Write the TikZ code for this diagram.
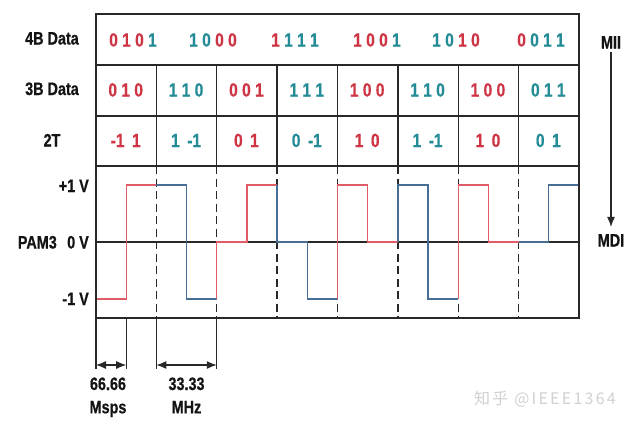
\documentclass[tikz,border=0pt]{standalone}
\usepackage{fontspec}
\setmainfont{Liberation Sans}[FakeStretch=0.8,FakeBold=0.6]
\newfontfamily\datafont{Liberation Sans}[FakeStretch=0.82,FakeBold=0.5]
\newfontfamily\wmfont{Noto Sans CJK SC}[LetterSpace=14]
\usetikzlibrary{arrows.meta,calc}
\definecolor{dred}{RGB}{206,52,68}
\definecolor{dteal}{RGB}{36,140,150}
\definecolor{wred}{RGB}{224,92,102}
\definecolor{wblue}{RGB}{72,110,150}
\definecolor{lineC}{RGB}{40,40,40}
\definecolor{labC}{RGB}{20,20,20}
\newcommand\drd[1]{\textcolor{dred}{#1}}
\newcommand\dtl[1]{\textcolor{dteal}{#1}}
\newcommand\gp{\kern4.3pt}
\newcommand\wg{\kern7.5pt}
\begin{document}
\begin{tikzpicture}[x=1pt,y=-1pt,
  lbl/.style={inner sep=0pt, text=labC, font=\fontsize{18}{20}\selectfont\bfseries},
  dat/.style={inner sep=0pt, font=\fontsize{19}{20}\selectfont\datafont\bfseries},
  frame/.style={draw=lineC, line width=1.3pt},
  ext/.style={draw=lineC, line width=1.1pt},
  dsh/.style={draw=lineC, line width=1.4pt, dash pattern=on 8pt off 4.5pt},
  wave/.style={line width=1.3pt, line join=miter},
  dimarrow/.style={draw=lineC, line width=1.1pt, {Latex[length=10pt,width=8pt]}-{Latex[length=10pt,width=8pt]}},
  flow/.style={draw=lineC, line width=1.1pt, -{Latex[length=10pt,width=8pt]}}
]
\fill[white] (0,0) rectangle (634,424);
\path[use as bounding box] (0,0) rectangle (634,424);

% table grid
\draw[frame] (96,65) -- (579,65);
\draw[frame] (96,116) -- (579,116);
\draw[frame] (96,166) -- (579,166);
\draw[frame] (96,242) -- (579,242);
\foreach \i in {1,...,7}{
  \pgfmathsetmacro\xx{96+\i*60.375}
  \draw[frame] (\xx,65) -- (\xx,166);
  \draw[dsh] (\xx,166) -- (\xx,318);
}

% waveform
\def\cA{96}\def\cB{156.375}\def\cC{216.75}\def\cD{277.125}\def\cE{337.5}\def\cF{397.875}\def\cG{458.25}\def\cH{518.625}\def\cI{579}
\def\hi{185}\def\mi{242}\def\lo{299}
\draw[wave,wred]  (\cA,\lo) -- (126.19,\lo) -- (126.19,\hi) -- (\cB,\hi);
\draw[wave,wblue] (\cB,\hi) -- (186.56,\hi) -- (186.56,\lo) -- (\cC,\lo);
\draw[wave,wred]  (\cC,\lo) -- (\cC,\mi) -- (246.94,\mi) -- (246.94,\hi) -- (\cD,\hi);
\draw[wave,wblue] (\cD,\hi) -- (\cD,\mi) -- (307.31,\mi) -- (307.31,\lo) -- (\cE,\lo);
\draw[wave,wred]  (\cE,\lo) -- (\cE,\hi) -- (367.69,\hi) -- (367.69,\mi) -- (\cF,\mi);
\draw[wave,wblue] (\cF,\mi) -- (\cF,\hi) -- (428.06,\hi) -- (428.06,\lo) -- (\cG,\lo);
\draw[wave,wred]  (\cG,\lo) -- (\cG,\hi) -- (488.44,\hi) -- (488.44,\mi) -- (\cH,\mi);
\draw[wave,wblue] (\cH,\mi) -- (548.81,\mi) -- (548.81,\hi) -- (\cI,\hi);

\draw[frame] (96,14) rectangle (579,318);

% row labels
\node[lbl, anchor=base east] (l4b) at (79,44.5) {4B Data};
\node[lbl, anchor=base east] (l3b) at (79,95) {3B Data};
\node[lbl, anchor=base] (l2t) at (52,146.5) {2T};
\node[lbl, anchor=base east] (lp1) at (89,192) {+1 V};
\node[lbl, anchor=base east] (l0v) at (89,248.5) {0 V};
\node[lbl, anchor=base east] (lpam) at (57,248.5) {PAM3};
\node[lbl, anchor=base east] (lm1) at (89,305) {-1 V};

% 4B data
\node[dat, anchor=base] (g1) at (133,46.5) {\drd{0\gp1\gp0}\gp\dtl{1}};
\node[dat, anchor=base] (g2) at (213,46.5) {\dtl{1\gp0}\gp\drd{0\gp0}};
\node[dat, anchor=base] (g3) at (295,46.5) {\drd{1}\gp\dtl{1\gp1\gp1}};
\node[dat, anchor=base] (g4) at (377,46.5) {\drd{1\gp0\gp0}\gp\dtl{1}};
\node[dat, anchor=base] (g5) at (456,46.5) {\dtl{1\gp0}\gp\drd{1\gp0}};
\node[dat, anchor=base] (g6) at (541,46.5) {\drd{0}\gp\dtl{0\gp1\gp1}};

% 3B data and 2T
\foreach \t/\u [count=\k from 0] in {
  {0\gp1\gp0}/{-1\wg1},
  {1\gp1\gp0}/{1\wg-1},
  {0\gp0\gp1}/{0\wg1},
  {1\gp1\gp1}/{0\wg-1},
  {1\gp0\gp0}/{1\wg0},
  {1\gp1\gp0}/{1\wg-1},
  {1\gp0\gp0}/{1\wg0},
  {0\gp1\gp1}/{0\wg1}}{
  \pgfmathsetmacro\xc{96+(\k+0.5)*60.375}
  \pgfmathtruncatemacro\parity{mod(\k,2)}
  \ifnum\parity=0 \def\cc{dred}\else\def\cc{dteal}\fi
  \node[dat, anchor=base, text=\cc] (b\k) at (\xc-0.5,96.5) {\t};
  \node[dat, anchor=base, text=\cc] (t\k) at (\xc-0.5,147) {\u};
}

% MII -> MDI
\node[lbl, anchor=base] (mii) at (611,48.5) {MII};
\node[lbl, anchor=base] (mdi) at (611,246.5) {MDI};
\draw[flow] ($(mii.south)+(0,3)$) -- ($(mdi.north)+(0,-7)$);

% dimension lines
\coordinate (e0) at (96,365);
\coordinate (e1) at (126.19,365);
\coordinate (e2) at (\cB,365);
\coordinate (e3) at (\cC,365);
\draw[ext] (96,318) -- (96,369);
\draw[ext] (126.19,318) -- (126.19,369);
\draw[ext] (\cB,318) -- (\cB,369);
\draw[ext] (\cC,318) -- (\cC,369);
\draw[dimarrow] (e0) -- (e1);
\draw[dimarrow] (e2) -- (e3);
\node[lbl, anchor=base] (r1) at (108,390) {66.66};
\node[lbl, anchor=base] (r2) at (108,413.3) {Msps};
\node[lbl, anchor=base] (f1) at (186.5,390) {33.33};
\node[lbl, anchor=base] (f2) at (186.5,413.3) {MHz};

% watermark
\node[inner sep=0pt, anchor=base west, text=black!18, font=\fontsize{16}{18}\selectfont\wmfont] (wm) at (474,404) {知乎 @IEEE1364};
\end{tikzpicture}
\end{document}
